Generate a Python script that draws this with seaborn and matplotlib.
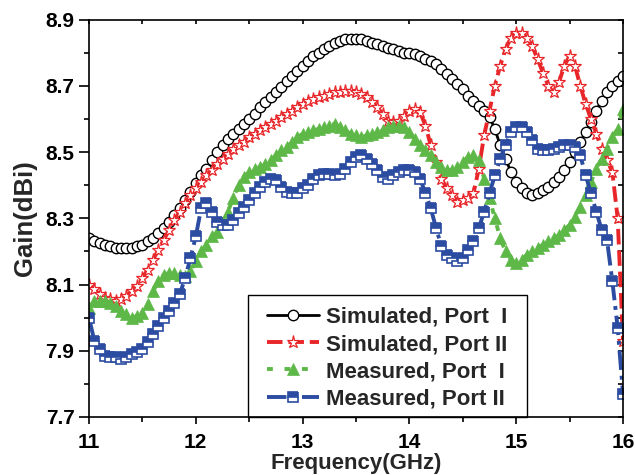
import numpy as np
import pandas as pd
import matplotlib
matplotlib.use("Agg")
import matplotlib.pyplot as plt
from matplotlib.ticker import MultipleLocator
from matplotlib.patches import Rectangle
import seaborn as sns

freq = [11.00, 11.05, 11.10, 11.15, 11.20, 11.25, 11.30, 11.35, 11.40, 11.45,
        11.50, 11.55, 11.60, 11.65, 11.70, 11.75, 11.80, 11.85, 11.90, 11.95,
        12.00, 12.05, 12.10, 12.15, 12.20, 12.25, 12.30, 12.35, 12.40, 12.45,
        12.50, 12.55, 12.60, 12.65, 12.70, 12.75, 12.80, 12.85, 12.90, 12.95,
        13.00, 13.05, 13.10, 13.15, 13.20, 13.25, 13.30, 13.35, 13.40, 13.45,
        13.50, 13.55, 13.60, 13.65, 13.70, 13.75, 13.80, 13.85, 13.90, 13.95,
        14.00, 14.05, 14.10, 14.15, 14.20, 14.25, 14.30, 14.35, 14.40, 14.45,
        14.50, 14.55, 14.60, 14.65, 14.70, 14.75, 14.80, 14.85, 14.90, 14.95,
        15.00, 15.05, 15.10, 15.15, 15.20, 15.25, 15.30, 15.35, 15.40, 15.45,
        15.50, 15.55, 15.60, 15.65, 15.70, 15.75, 15.80, 15.85, 15.90, 15.95,
        16.00]

sim_port1 = [8.24, 8.23, 8.225, 8.22, 8.215, 8.21, 8.21, 8.21, 8.21, 8.215,
             8.22, 8.23, 8.24, 8.255, 8.27, 8.29, 8.31, 8.33, 8.355, 8.38,
             8.405, 8.43, 8.45, 8.475, 8.50, 8.52, 8.54, 8.555, 8.57, 8.585,
             8.60, 8.615, 8.635, 8.65, 8.665, 8.68, 8.695, 8.715, 8.73, 8.745,
             8.76, 8.775, 8.79, 8.80, 8.81, 8.82, 8.83, 8.835, 8.84, 8.84,
             8.84, 8.84, 8.835, 8.83, 8.825, 8.82, 8.815, 8.81, 8.805, 8.80,
             8.80, 8.795, 8.79, 8.78, 8.775, 8.765, 8.75, 8.735, 8.72, 8.705,
             8.69, 8.67, 8.655, 8.64, 8.625, 8.605, 8.57, 8.52, 8.48, 8.44,
             8.41, 8.39, 8.375, 8.37, 8.375, 8.385, 8.395, 8.41, 8.425, 8.445,
             8.47, 8.50, 8.53, 8.56, 8.59, 8.625, 8.655, 8.68, 8.70, 8.715,
             8.73]

sim_port2 = [8.10, 8.085, 8.07, 8.06, 8.055, 8.05, 8.055, 8.065, 8.08, 8.095,
             8.12, 8.145, 8.175, 8.205, 8.235, 8.265, 8.295, 8.32, 8.345, 8.37,
             8.39, 8.41, 8.43, 8.445, 8.465, 8.48, 8.495, 8.51, 8.52, 8.53,
             8.545, 8.555, 8.565, 8.575, 8.585, 8.595, 8.605, 8.615, 8.625, 8.635,
             8.645, 8.655, 8.66, 8.665, 8.67, 8.675, 8.68, 8.68, 8.685, 8.685,
             8.68, 8.675, 8.665, 8.65, 8.635, 8.615, 8.595, 8.59, 8.595, 8.61,
             8.625, 8.63, 8.62, 8.58, 8.52, 8.47, 8.42, 8.39, 8.37, 8.35,
             8.355, 8.36, 8.375, 8.45, 8.55, 8.625, 8.70, 8.76, 8.81, 8.845,
             8.86, 8.86, 8.845, 8.82, 8.78, 8.74, 8.70, 8.68, 8.71, 8.76,
             8.79, 8.76, 8.70, 8.645, 8.60, 8.555, 8.51, 8.475, 8.44, 8.30,
             7.93]

meas_port1 = [8.03, 8.05, 8.05, 8.05, 8.045, 8.035, 8.02, 8.01, 8.00, 8.005,
              8.015, 8.04, 8.08, 8.11, 8.13, 8.135, 8.135, 8.13, 8.125, 8.14,
              8.17, 8.20, 8.22, 8.245, 8.26, 8.29, 8.32, 8.36, 8.40, 8.425,
              8.44, 8.45, 8.455, 8.465, 8.475, 8.49, 8.505, 8.515, 8.53, 8.545,
              8.555, 8.56, 8.565, 8.57, 8.575, 8.58, 8.585, 8.575, 8.565, 8.555,
              8.55, 8.545, 8.55, 8.555, 8.56, 8.565, 8.575, 8.58, 8.58, 8.575,
              8.56, 8.54, 8.52, 8.505, 8.49, 8.47, 8.455, 8.445, 8.445, 8.455,
              8.47, 8.485, 8.49, 8.475, 8.42, 8.36, 8.30, 8.24, 8.20, 8.175,
              8.165, 8.175, 8.19, 8.20, 8.21, 8.22, 8.23, 8.24, 8.25, 8.265,
              8.28, 8.305, 8.335, 8.37, 8.41, 8.45, 8.48, 8.51, 8.545, 8.57,
              8.63]

meas_port2 = [8.00, 7.93, 7.905, 7.885, 7.88, 7.88, 7.875, 7.88, 7.89, 7.895,
              7.905, 7.925, 7.95, 7.975, 8.00, 8.02, 8.045, 8.07, 8.12, 8.18,
              8.245, 8.33, 8.345, 8.32, 8.29, 8.28, 8.28, 8.295, 8.315, 8.335,
              8.355, 8.375, 8.395, 8.41, 8.42, 8.415, 8.395, 8.38, 8.375, 8.375,
              8.39, 8.40, 8.42, 8.43, 8.435, 8.435, 8.43, 8.435, 8.45, 8.47,
              8.485, 8.49, 8.48, 8.465, 8.445, 8.425, 8.42, 8.43, 8.44, 8.445,
              8.445, 8.44, 8.42, 8.375, 8.33, 8.27, 8.215, 8.19, 8.18, 8.17,
              8.18, 8.205, 8.23, 8.27, 8.32, 8.375, 8.43, 8.48, 8.52, 8.56,
              8.575, 8.575, 8.56, 8.535, 8.51, 8.505, 8.505, 8.51, 8.515, 8.52,
              8.52, 8.515, 8.49, 8.43, 8.375, 8.32, 8.265, 8.235, 8.11, 7.97,
              7.77]

labels = ["Simulated, Port  I", "Simulated, Port II",
          "Measured, Port  I", "Measured, Port II"]
x_ticks = [11, 12, 13, 14, 15, 16]
y_ticks = [7.7, 7.9, 8.1, 8.3, 8.5, 8.7, 8.9]

sns.set_style("ticks")
plt.rcParams["font.family"] = ["Liberation Sans", "DejaVu Sans"]
plt.rcParams["font.weight"] = "bold"
plt.rcParams["axes.labelweight"] = "bold"

fig = plt.figure(figsize=(6.35, 4.75), dpi=100)
ax = fig.add_axes([89 / 635, 58 / 475, 534 / 635, 397.5 / 475])

df = pd.DataFrame({"f": freq, "s1": sim_port1, "s2": sim_port2,
                   "m1": meas_port1, "m2": meas_port2})

sns.lineplot(data=df, x="f", y="s1", ax=ax, color="black", lw=2.0,
             linestyle="-", marker="o", markersize=7.5, markerfacecolor="white",
             markeredgecolor="black", markeredgewidth=1.0, label=labels[0])
sns.lineplot(data=df, x="f", y="s2", ax=ax, color="#e8262a", lw=2.8,
             linestyle=(0, (4, 1.5)), marker="*", markersize=9.5,
             markerfacecolor="white", markeredgecolor="#e8262a",
             markeredgewidth=0.9, label=labels[1])
sns.lineplot(data=df, x="f", y="m1", ax=ax, color="#5db847", lw=2.8,
             linestyle=(0, (1.5, 3)), marker="^", markersize=8,
             markerfacecolor="#5db847", markeredgecolor="#5db847",
             markeredgewidth=0.5, label=labels[2])
sns.lineplot(data=df, x="f", y="m2", ax=ax, color="#2c4ca2", lw=2.8,
             linestyle=(0, (5, 1.5, 1, 1.5)), marker="s", markersize=6.5,
             fillstyle="top", markerfacecolor="#2c4ca2",
             markerfacecoloralt="white", markeredgecolor="#2c4ca2",
             markeredgewidth=1.2, label=labels[3])

ax.set_xlim(11, 16)
ax.set_ylim(7.7, 8.9)
ax.set_xticks(x_ticks)
ax.set_yticks(y_ticks)
ax.set_xticklabels([str(v) for v in x_ticks])
ax.set_yticklabels([f"{v:.1f}" for v in y_ticks])
ax.xaxis.set_minor_locator(MultipleLocator(0.5))
ax.yaxis.set_minor_locator(MultipleLocator(0.1))
for sp in ax.spines.values():
    sp.set_visible(True)
    sp.set_linewidth(1.2)
    sp.set_color("black")
    sp.set_zorder(6)
ax.tick_params(axis="both", which="both", direction="out", width=1.2,
               colors="black", top=True, right=True)
ax.tick_params(axis="x", which="major", length=5, labelsize=15, pad=6.5)
ax.tick_params(axis="x", which="minor", length=3.5)
ax.tick_params(axis="y", which="major", length=7.5, labelsize=15, pad=3)
ax.tick_params(axis="y", which="minor", length=3.8)
for t in ax.xaxis.get_ticklines(minor=False)[1::2] + ax.xaxis.get_ticklines(minor=True)[1::2]:
    t.set_marker(3)
    t.set_markersize(3)
for t in ax.yaxis.get_ticklines(minor=False)[1::2] + ax.yaxis.get_ticklines(minor=True)[1::2]:
    t.set_marker(0)
    t.set_markersize(3.5)
ax.set_xlabel("Frequency(GHz)", fontsize=16, fontweight="bold", labelpad=0.5)
ax.set_ylabel("Gain(dBi)", fontsize=18.5, fontweight="bold", labelpad=6)

# legend box
ax.add_patch(Rectangle(((248 - 89) / 534, 0.0), (527 - 248) / 534,
                       (417 - 295) / 397.5, transform=ax.transAxes,
                       facecolor="white", edgecolor="black", linewidth=1.0,
                       zorder=4, clip_on=False))
leg = ax.legend(loc="lower left", bbox_to_anchor=((259.5 - 89) / 534, 0.0),
                borderaxespad=0, numpoints=1, frameon=False,
                handlelength=2.35, handletextpad=0.3,
                labelspacing=0.28, borderpad=0.34,
                prop={"weight": "bold", "size": 16})
leg.set_zorder(5)

fig.savefig("out.png", dpi=100)
